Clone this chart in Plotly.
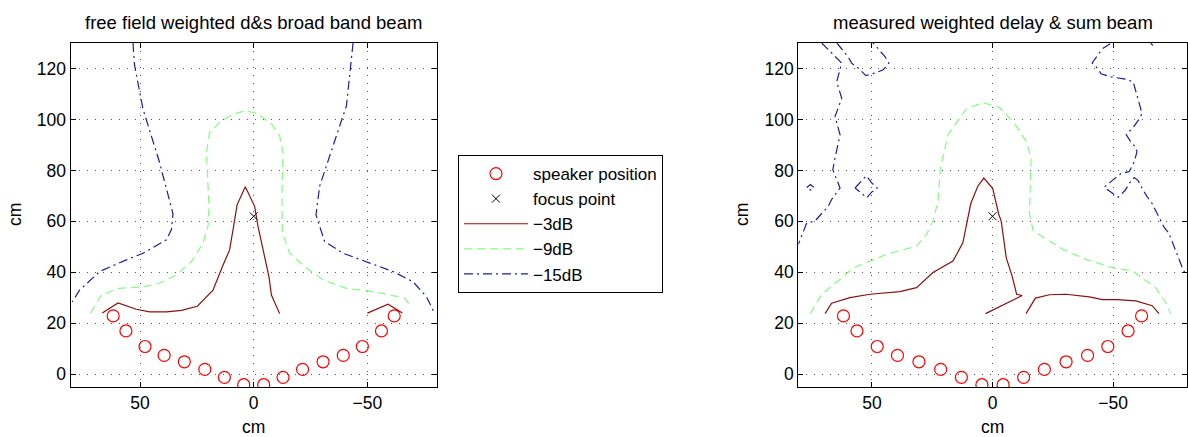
import plotly.graph_objects as go

# Loudspeaker array (cm) and beam focus point
spk_x = [61.8, 56.2, 47.8, 39.4, 30.5, 21.5, 12.9, 4.4, -4.4, -12.9, -21.5, -30.5, -39.4, -47.8, -56.2, -61.8]
spk_y = [22.9, 17.0, 10.9, 7.4, 4.9, 1.9, -1.2, -4.1, -4.1, -1.2, 1.9, 4.9, 7.4, 10.9, 17.0, 22.9]
focus_x = [0.0]
focus_y = [62.0]

# Free field beam: iso-level contours (None separates contour pieces)
ff_m3_x = [66.6, 59.7, 51.6, 45.8, 38.4, 31.8, 24.8, 17.9, 13.8, 10.6, 9.1, 7.3, 3.7, -0.4, -1.9, -4.1, -6.7, -7.8, -11.4,
           None, -50.0, -59.1, -65.4]
ff_m3_y = [24.0, 28.0, 25.5, 24.5, 24.5, 25.1, 26.7, 33.0, 42.2, 48.8, 56.7, 66.5, 73.6, 65.9, 58.0, 48.8, 38.3, 31.1, 23.8,
           None, 24.0, 27.5, 24.0]

ff_m9_x = [71.8, 67.0, 59.7, 48.7, 41.4, 34.0, 27.4, 22.3, 20.1, 19.7, 20.3, 20.8, 19.4, 15.0, 9.1, 3.7, -1.2, -7.8, -11.4,
           -12.9, -12.4, -12.6, -15.8, -22.4, -30.5, -40.8, -49.6, -56.9, -66.4, -69.4]
ff_m9_y = [24.0, 31.1, 33.7, 34.3, 35.7, 39.0, 44.2, 51.5, 58.0, 65.9, 78.0, 87.0, 94.9, 98.8, 102.1, 103.4, 102.5, 98.2, 93.6,
           87.0, 70.0, 55.4, 47.5, 42.2, 37.0, 33.7, 32.8, 31.7, 29.8, 26.2]

ff_m15_x = [53.1, 52.4, 48.7, 41.4, 35.5, 36.2, 38.4, 48.7, 56.0, 67.8, 76.6, 79.8,
            None, -43.7, -40.8, -34.9, -29.0, -27.4, -31.2, -39.3, -49.6, -61.3, -70.1, -76.0, -79.6]
ff_m15_y = [130.0, 121.2, 104.1, 83.1, 63.0, 56.7, 52.8, 47.5, 44.9, 40.3, 33.0, 28.4,
            None, 130.0, 105.4, 89.6, 73.8, 62.5, 52.1, 47.5, 44.2, 40.3, 36.3, 30.4, 23.8]

# Measured beam: iso-level contours
ms_m3_x = [69.4, 66.7, 59.1, 50.8, 38.4, 31.5, 24.7, 16.4, 12.3, 10.5, 9.0, 6.1, 3.6, -0.1, -2.6, -3.6, -5.7, -8.1, -10.0,
           -12.3, 2.9,
           None, -13.9, -17.8, -23.6, -30.4, -40.1, -45.6, -51.8, -59.4, -66.2, -69.0]
ms_m3_y = [23.8, 27.9, 30.1, 31.4, 32.4, 34.0, 39.9, 44.4, 51.6, 60.1, 67.0, 73.8, 77.0, 72.9, 62.7, 60.1, 45.7, 38.6, 31.4,
           30.9, 23.8,
           None, 23.8, 29.9, 31.2, 31.4, 30.4, 29.3, 29.3, 28.8, 26.9, 23.8]

ms_m9_x = [75.6, 70.8, 63.2, 57.7, 50.8, 43.9, 31.5, 27.4, 24.7, 22.6, 21.6, 18.5, 10.9, 4.0, -2.9, -9.1, -13.9, -16.0,
           -15.3, -16.9, -23.6, -29.1, -38.7, -49.7, -58.0, -67.6, -71.8, -73.8]
ms_m9_y = [23.8, 31.4, 37.3, 41.8, 44.4, 47.1, 50.3, 54.9, 60.1, 67.9, 80.9, 94.0, 104.1, 106.6, 104.7, 98.5, 91.4, 84.8,
           63.0, 56.2, 52.3, 49.0, 45.1, 41.8, 40.5, 34.0, 28.1, 23.8]

ms_m15_x = [70.8, 66.2, 62.5, 64.6, 62.5, 65.3, 63.2, 65.6, 66.2, 64.6, 63.2, 66.7, 68.1, 71.2, 73.6, 77.0, 79.0, 80.5,
            None, 64.5, 59.8, 58.4, 55.7, 52.5, 48.8, 45.3, 43.0, 44.6, 47.8, 49.5,
            None, 77.0, 75.5, 74.0, 75.5, 77.0,
            None, 57.0, 55.0, 52.3, 50.1, 47.8, 50.1, 52.2, 54.3, 57.0,
            None, -48.8, -45.5, -43.4, -41.3, -43.4, -45.0, -49.2, -54.5, -58.3, -59.5, -60.7, -62.0, -60.7, -58.3, -55.4,
            -57.0, -59.1, -59.9, -59.1, -58.3, -56.6, -53.3, -49.2, -46.3, -49.2, -52.1, -55.0, -57.0, -58.7, -60.3,
            -62.0, -64.0, -66.1, -69.0, -71.1, -73.1, -75.2, -77.3, -78.9, -80.2,
            None, -65.6, -66.4]
ms_m15_y = [130.0, 125.6, 122.1, 114.8, 108.3, 101.1, 94.0, 83.5, 80.3, 76.4, 73.1, 68.6, 65.9, 62.7, 60.1, 59.4, 54.9, 51.0,
            None, 130.0, 124.5, 122.1, 120.2, 117.2, 118.2, 119.5, 122.1, 124.7, 128.0, 130.0,
            None, 73.3, 74.5, 73.3, 72.3, 73.3,
            None, 73.1, 75.1, 77.9, 75.1, 73.1, 71.5, 69.2, 71.1, 73.1,
            None, 129.7, 127.7, 124.9, 122.2, 120.2, 117.9, 116.7, 115.9, 114.8, 110.9, 107.0, 102.3, 100.0, 96.8, 94.1,
            91.7, 89.3, 87.4, 84.6, 82.4, 79.5, 78.8, 75.7, 73.4, 71.4, 69.5, 72.2, 75.3, 77.2, 76.1,
            73.0, 69.8, 67.1, 62.0, 57.7, 55.4, 50.3, 45.2, 41.3, 39.0,
            None, 130.0, 129.0]

x_ticks = [50, 0, -50]
y_ticks = [0, 20, 40, 60, 80, 100, 120]

FONT = "Liberation Sans, Arial, Helvetica, sans-serif"
C_SPK = "#ff0000"
C_M3 = "#8b1010"
C_M9 = "#80ff80"
C_M15 = "#1c1ca0"
DASH_M9 = "8px,5px"
DASH_M15 = "9px,4px,2px,4px"

fig = go.Figure()

panels = [
    ("x", "y", ff_m3_x, ff_m3_y, ff_m9_x, ff_m9_y, ff_m15_x, ff_m15_y, True),
    ("x2", "y2", ms_m3_x, ms_m3_y, ms_m9_x, ms_m9_y, ms_m15_x, ms_m15_y, False),
]

for xa, ya, m3x, m3y, m9x, m9y, m15x, m15y, first in panels:
    fig.add_trace(go.Scatter(
        x=spk_x, y=spk_y, xaxis=xa, yaxis=ya, mode="markers", name="speaker position",
        legendgroup="spk", showlegend=first,
        marker=dict(symbol="circle-open", size=12, color=C_SPK, line=dict(width=1.2, color=C_SPK))))
    fig.add_trace(go.Scatter(
        x=focus_x, y=focus_y, xaxis=xa, yaxis=ya, mode="markers", name="focus point",
        legendgroup="focus", showlegend=first,
        marker=dict(symbol="x-thin-open", size=8, color="black", line=dict(width=1, color="black"))))
    fig.add_trace(go.Scatter(
        x=m3x, y=m3y, xaxis=xa, yaxis=ya, mode="lines", name="\u22123dB",
        legendgroup="m3", showlegend=first, connectgaps=False,
        line=dict(color=C_M3, width=1.2)))
    fig.add_trace(go.Scatter(
        x=m9x, y=m9y, xaxis=xa, yaxis=ya, mode="lines", name="\u22129dB",
        legendgroup="m9", showlegend=first, connectgaps=False,
        line=dict(color=C_M9, width=1.2, dash=DASH_M9)))
    fig.add_trace(go.Scatter(
        x=m15x, y=m15y, xaxis=xa, yaxis=ya, mode="lines", name="\u221215dB",
        legendgroup="m15", showlegend=first, connectgaps=False,
        line=dict(color=C_M15, width=1.2, dash=DASH_M15)))

axis_common = dict(
    showline=True, linecolor="black", linewidth=1.3, mirror="ticks",
    ticks="inside", ticklen=5, tickwidth=1, tickcolor="black",
    showgrid=True, gridcolor="#555555", gridwidth=1, griddash="1px,7px",
    zeroline=False, tickfont=dict(family=FONT, size=17.5, color="black"),
)

YD = [0.1144, 0.9016]
XD1 = [0.0595, 0.3676]
XD2 = [0.672, 0.9989]

fig.update_layout(
    width=1188, height=437,
    margin=dict(l=0, r=0, t=0, b=0),
    paper_bgcolor="white", plot_bgcolor="white",
    font=dict(family=FONT, size=17, color="black"),
    xaxis=dict(domain=XD1, range=[80.5, -80.5], tickvals=x_ticks, anchor="y", **axis_common),
    yaxis=dict(domain=YD, range=[-5, 130], tickvals=y_ticks, anchor="x", **axis_common),
    xaxis2=dict(domain=XD2, range=[80.5, -80.5], tickvals=x_ticks, anchor="y2", **axis_common),
    yaxis2=dict(domain=YD, range=[-5, 130], tickvals=y_ticks, anchor="x2", **axis_common),
    legend=dict(
        x=0.3855, y=0.6453, xanchor="left", yanchor="top",
        bordercolor="black", borderwidth=1, bgcolor="white",
        font=dict(family=FONT, size=17, color="black"),
        itemwidth=64, tracegroupgap=0,
    ),
    showlegend=True,
)

titles = [
    ("free field weighted d&s broad band beam", sum(XD1) / 2),
    ("measured weighted delay & sum beam", sum(XD2) / 2),
]
for text, xc in titles:
    fig.add_annotation(text=text, x=xc, y=(437 - 22.7) / 437, xref="paper", yref="paper",
                       xanchor="center", yanchor="middle",
                       showarrow=False, font=dict(family=FONT, size=18.5, color="black"))
    fig.add_annotation(text="cm", x=xc, y=(437 - 426.7) / 437, xref="paper", yref="paper",
                       xanchor="center", yanchor="middle",
                       showarrow=False, font=dict(family=FONT, size=17.5, color="black"))

for xpix in (15, 742):
    fig.add_annotation(text="cm", x=xpix / 1188, y=(437 - 215) / 437, xref="paper", yref="paper",
                       xanchor="center", yanchor="middle",
                       textangle=-90, showarrow=False, font=dict(family=FONT, size=17.5, color="black"))

fig.write_html("out.html")
